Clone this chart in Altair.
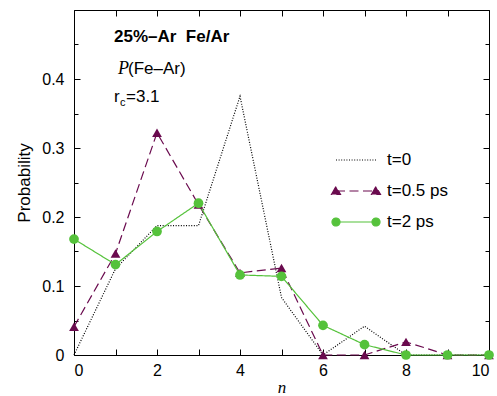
import altair as alt
import pandas as pd

# ---- data ----
n_vals = [0, 1, 2, 3, 4, 5, 6, 7, 8, 9, 10]
p_t0 = [0.0, 0.125, 0.1875, 0.1875, 0.375, 0.0833, 0.0, 0.0417, 0.0, 0.0, 0.0]
p_t05 = [0.041, 0.147, 0.322, 0.218, 0.119, 0.126, 0.0, 0.0, 0.019, 0.0, 0.0]
p_t2 = [0.168, 0.131, 0.179, 0.220, 0.116, 0.114, 0.043, 0.015, 0.0, 0.0, 0.0]
series_names = ["t=0", "t=0.5 ps", "t=2 ps"]
series_colors = ["#000000", "#6a0a4e", "#55c23b"]
series_dash = [[1, 1.6], [9, 4.5], [1, 0]]

x_tick_labels = [0, 2, 4, 6, 8, 10]
x_ticks = [0, 1, 2, 3, 4, 5, 6, 7, 8, 9, 10]
y_tick_labels = [0, 0.1, 0.2, 0.3, 0.4]
y_ticks_major = [0, 0.1, 0.2, 0.3, 0.4, 0.5]
y_ticks_minor = [0.05, 0.15, 0.25, 0.35, 0.45]

title_text = "25%\u2013Ar\u00a0 Fe/Ar"
p_text = "P"
p_rest = "(Fe\u2013Ar)"
rc_r = "r"
rc_c = "c"
rc_rest = "=3.1"

rows = []
for name, vals in zip(series_names, [p_t0, p_t05, p_t2]):
    for n, p in zip(n_vals, vals):
        rows.append({"n": n, "p": p, "series": name})
df = pd.DataFrame(rows)
df_pts = df[df["series"] != "t=0"].reset_index(drop=True)

W, H = 415, 345
SANS = "Liberation Sans"
SERIF = "Liberation Serif"

xscale = alt.Scale(domain=[0, 10], nice=False, zero=False)
yscale = alt.Scale(domain=[0, 0.5], nice=False, zero=False)
cscale = alt.Scale(domain=series_names, range=series_colors)

# legend symbol paths (units of 10 px)
path_t0 = "M-2,0L2,0"
path_t05 = ("M-2,0L2,0M-2.45,0.35L-2,-0.45L-1.55,0.35ZM1.55,0.35L2,-0.45L2.45,0.35Z")
path_t2 = ("M-2,0L2,0M-2.4,0A0.4,0.4,0,1,0,-1.6,0A0.4,0.4,0,1,0,-2.4,0Z"
           "M1.6,0A0.4,0.4,0,1,0,2.4,0A0.4,0.4,0,1,0,1.6,0Z")

shape_expr = ("datum.value === '%s' ? '%s' : (datum.value === '%s' ? '%s' : '%s')"
              % (series_names[0], path_t0, series_names[1], path_t05, path_t2))
fill_expr = ("datum.value === '%s' ? 'transparent' : scale('color', datum.value)"
             % series_names[0])
dash_expr = ("datum.value === '%s' ? [1, 1.6] : (datum.value === '%s' ? [9, 4.5] : [1, 0])"
             % (series_names[0], series_names[1]))

legend = alt.Legend(
    title=None, orient="none", legendX=271, legendY=139, padding=0,
    rowPadding=12, labelOffset=20, symbolSize=400, labelFont=SANS,
    labelFontSize=17, labelColor="black", symbolStrokeWidth=1.2,
    symbolType=alt.ExprRef(expr=shape_expr),
    symbolFillColor=alt.ExprRef(expr=fill_expr),
    symbolDash=alt.ExprRef(expr=dash_expr),
    symbolOpacity=1,
)

base = alt.Chart(df)

lines = base.mark_line(strokeWidth=1.2).encode(
    x=alt.X("n:Q", scale=xscale,
            axis=alt.Axis(orient="bottom", values=x_tick_labels, format="d",
                          tickSize=0, labelPadding=7, title="n",
                          titleFont=SERIF, titleFontStyle="italic",
                          titleFontWeight="normal", titleFontSize=17,
                          titlePadding=1)),
    y=alt.Y("p:Q", scale=yscale,
            axis=alt.Axis(orient="left", values=y_tick_labels, format=".1~f",
                          tickSize=0, labelPadding=10, title="Probability",
                          titleFont=SANS, titleFontWeight="normal",
                          titleFontSize=17, titlePadding=8)),
    color=alt.Color("series:N", scale=cscale, legend=legend),
    strokeDash=alt.StrokeDash("series:N",
                              scale=alt.Scale(domain=series_names, range=series_dash),
                              legend=None),
)

points = alt.Chart(df_pts).mark_point(filled=True, size=95, opacity=1).encode(
    x=alt.X("n:Q", scale=xscale,
            axis=alt.Axis(orient="top", offset=-H, values=x_ticks, tickSize=6,
                          labels=False, title=None)),
    y=alt.Y("p:Q", scale=yscale,
            axis=alt.Axis(orient="right", offset=-W, values=y_ticks_major,
                          tickSize=6, labels=False, title=None)),
    color=alt.Color("series:N", scale=cscale, legend=None),
    shape=alt.Shape("series:N",
                    scale=alt.Scale(domain=series_names[1:],
                                    range=["triangle-up", "circle"]),
                    legend=None),
)

ticks_a = base.mark_point(opacity=0).encode(
    x=alt.X("n:Q", scale=xscale,
            axis=alt.Axis(orient="bottom", offset=-H, values=x_ticks, tickSize=6,
                          labels=False, title=None)),
    y=alt.Y("p:Q", scale=yscale,
            axis=alt.Axis(orient="left", offset=-W, values=y_ticks_major,
                          tickSize=6, labels=False, title=None)),
)

ticks_b = base.mark_point(opacity=0).encode(
    x=alt.X("n:Q", scale=xscale, axis=None),
    y=alt.Y("p:Q", scale=yscale,
            axis=alt.Axis(orient="right", offset=-W, values=y_ticks_minor,
                          tickSize=4, labels=False, title=None)),
)

ticks_c = base.mark_point(opacity=0).encode(
    x=alt.X("n:Q", scale=xscale, axis=None),
    y=alt.Y("p:Q", scale=yscale,
            axis=alt.Axis(orient="left", offset=-W, values=y_ticks_minor,
                          tickSize=4, labels=False, title=None)),
)

one = pd.DataFrame({"k": [0]})


def label(txt, x, y, font=SANS, size=17, weight="normal", style="normal"):
    return alt.Chart(one).mark_text(
        text=txt, align="left", baseline="alphabetic", font=font,
        fontSize=size, fontWeight=weight, fontStyle=style, color="black",
    ).encode(x=alt.value(x), y=alt.value(y))


texts = [
    label(title_text, 40, 32, weight="bold"),
    label(p_text, 44, 64, font=SERIF, size=18, style="italic"),
    label(p_rest, 54, 64),
    label(rc_r, 40, 92),
    label(rc_c, 46, 96, size=11),
    label(rc_rest, 52, 92),
]

chart = alt.layer(lines, points, ticks_a, ticks_b, ticks_c, *texts).resolve_axis(
    x="independent", y="independent"
).properties(
    width=W, height=H, autosize=alt.AutoSizeParams(type="none"),
    padding={"left": 74, "top": 10, "right": 8, "bottom": 41},
    background="white",
).configure_view(
    stroke="black", strokeWidth=1
).configure_axis(
    grid=False, domain=False, tickColor="black", labelColor="black",
    titleColor="black", labelFont=SANS, labelFontSize=16, tickWidth=1,
)

chart.save("out.html", embed_options={"renderer": "svg", "actions": False})
